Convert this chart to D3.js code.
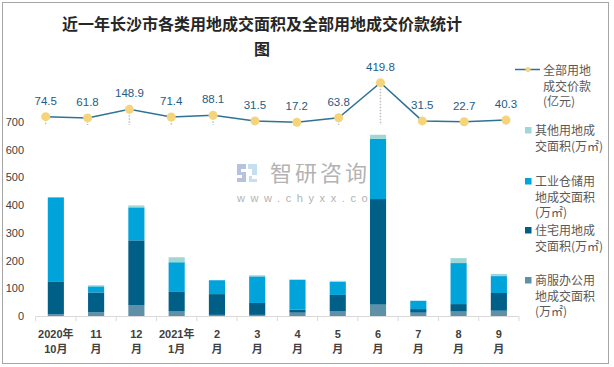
<!DOCTYPE html>
<html><head><meta charset="utf-8">
<script src="https://cdn.jsdelivr.net/npm/d3@7"></script>
<style>
html,body{margin:0;padding:0;background:#fff;}
svg{display:block;font-family:"Liberation Sans",Arial,"Noto Sans CJK SC",sans-serif;}
</style></head>
<body>
<svg id="c" width="614" height="367"></svg>
<script>
// ---- data ----
const months = ["2020年\n10月","11\n月","12\n月","2021年\n1月","2\n月","3\n月","4\n月","5\n月","6\n月","7\n月","8\n月","9\n月"];
const commercial = [6, 14, 38, 18, 4, 4, 12, 18, 41, 12, 16, 19];      // 商服办公用地成交面积
const residential = [119, 71, 235, 71, 75, 43, 11, 58, 381, 13, 27, 64]; // 住宅用地成交面积
const industrial = [303, 22, 119, 105, 50, 96, 108, 48, 217, 30, 148, 61]; // 工业仓储用地成交面积
const other = [0, 4, 7, 18, 0, 4, 0, 3, 15, 0, 18, 8];                  // 其他用地成交面积
const price = [74.5, 61.8, 148.9, 71.4, 88.1, 31.5, 17.2, 63.8, 419.8, 31.5, 22.7, 40.3]; // 全部用地成交价款(亿元)
const yTicks = [0, 100, 200, 300, 400, 500, 600, 700];

const seriesNames = ["商服办公用地成交面积(万㎡)","住宅用地成交面积(万㎡)","工业仓储用地成交面积(万㎡)","其他用地成交面积(万㎡)"];
const colors = ["#5E90A8", "#005F86", "#00A3DA", "#A0D7D6"];

const svg = d3.select("#c");

// outer frame
svg.append("rect").attr("x",2.5).attr("y",2.5).attr("width",606).attr("height",361)
  .attr("fill","#fff").attr("stroke","#a6a6a6").attr("stroke-width",1);

// title
const title = svg.append("text").attr("text-anchor","middle")
  .attr("font-family","'Noto Sans CJK SC',sans-serif").attr("font-weight","bold")
  .attr("font-size",16).attr("fill","#262626");
title.append("tspan").attr("x",262).attr("y",30).text("近一年长沙市各类用地成交面积及全部用地成交价款统计");
title.append("tspan").attr("x",262).attr("y",55).text("图");

// scales
const x = d3.scaleBand().domain(months).range([35.7, 519]).paddingInner(0.6).paddingOuter(0.3);
const y = d3.scaleLinear().domain([0, 700]).range([316, 122]);
const xl = d3.scalePoint().domain(months).range([45.7, 506]);
const y2 = d3.scaleLinear().domain([0, 500]).range([124, 74.8]);

// watermark
const wm = svg.append("g");
wm.append("path").attr("d","M237,164h9v5h-5v3h5v10h-9v-4h5v-3h-5z").attr("fill","#b7c2dc");
wm.append("path").attr("d","M248,164h9v11h-5v-6h-4z").attr("fill","#c5def0");
wm.append("path").attr("d","M249,176h3v3h5v3h-8z").attr("fill","#c5def0");
wm.append("text").attr("x",270).attr("y",181).attr("font-family","'Noto Sans CJK SC',sans-serif")
  .attr("font-size",22).attr("fill","#b3b3b3").attr("letter-spacing",3).text("智研咨询");
wm.append("text").attr("x",237).attr("y",202).attr("font-size",11).attr("fill","#b3b3b3")
  .attr("letter-spacing",5.6).text("www.chyxx.com");

// stacked bars
const rows = months.map((m,i)=>({m, s0:commercial[i], s1:residential[i], s2:industrial[i], s3:other[i]}));
const stack = d3.stack().keys(["s0","s1","s2","s3"])(rows);
svg.append("g").selectAll("g").data(stack).join("g").attr("fill",(d,i)=>colors[i])
  .selectAll("rect").data(d=>d).join("rect")
  .attr("x",d=>x(d.data.m)).attr("width",x.bandwidth())
  .attr("y",d=>y(d[1])).attr("height",d=>Math.max(0,y(d[0])-y(d[1])));

// x axis
const xAxisG = svg.append("g");
xAxisG.append("line").attr("x1",35.7).attr("x2",519).attr("y1",316.5).attr("y2",316.5).attr("stroke","#d9d9d9");
const step = x.step();
d3.range(13).forEach(k=>{
  const xx = 35.7 + k*step;
  xAxisG.append("line").attr("x1",xx).attr("x2",xx).attr("y1",316.5).attr("y2",321).attr("stroke","#d9d9d9");
});
months.forEach(m=>{
  const lines = m.split("\n");
  const t = svg.append("text").attr("text-anchor","middle").attr("font-size",11)
    .attr("font-weight","bold").attr("fill","#404040");
  lines.forEach((ln,j)=>t.append("tspan").attr("x",x(m)+x.bandwidth()/2).attr("y",338+j*15).text(ln));
});

// y axis labels
svg.append("g").selectAll("text").data(yTicks).join("text")
  .attr("x",24).attr("y",d=>y(d)+4).attr("text-anchor","end").attr("font-size",11)
  .attr("fill","#404040").text(d=>d);

// drop lines
svg.append("g").selectAll("line").data(price).join("line")
  .attr("x1",(d,i)=>xl(months[i])).attr("x2",(d,i)=>xl(months[i]))
  .attr("y1",d=>y2(d)).attr("y2",y2(0)+1)
  .attr("stroke","#bfbfbf").attr("stroke-width",1.5).attr("stroke-dasharray","1.5,1.5");

// line
const line = d3.line().x((d,i)=>xl(months[i])).y(d=>y2(d));
svg.append("path").datum(price).attr("d",line).attr("fill","none")
  .attr("stroke","#2F7393").attr("stroke-width",1.5);
svg.append("g").selectAll("circle").data(price).join("circle")
  .attr("cx",(d,i)=>xl(months[i])).attr("cy",d=>y2(d)).attr("r",4.5).attr("fill","#F6D47C");
svg.append("g").selectAll("text").data(price).join("text")
  .attr("x",(d,i)=>xl(months[i])).attr("y",d=>y2(d)-12).attr("text-anchor","middle")
  .attr("font-size",11.5).attr("fill","#1D5C86").text(d=>d.toFixed(1));

// legend
const lg = svg.append("g").attr("font-family","'Noto Sans CJK SC',sans-serif").attr("font-size",12).attr("fill","#595959");
lg.append("line").attr("x1",515).attr("x2",540).attr("y1",69.5).attr("y2",69.5).attr("stroke","#2F7393").attr("stroke-width",1.5);
lg.append("circle").attr("cx",528).attr("cy",69.5).attr("r",2.5).attr("fill","#F6D47C");
const lgText = (lines, x0, y0) => {
  const t = lg.append("text");
  lines.forEach((ln,j)=>t.append("tspan").attr("x",x0).attr("y",y0+j*15.5).text(ln));
};
lgText(["全部用地","成交价款","(亿元)"], 543, 75);
const legendItems = [
  {c:colors[3], lines:["其他用地成","交面积(万㎡)"], y:135},
  {c:colors[2], lines:["工业仓储用","地成交面积","(万㎡)"], y:186},
  {c:colors[1], lines:["住宅用地成","交面积(万㎡)"], y:235},
  {c:colors[0], lines:["商服办公用","地成交面积","(万㎡)"], y:285}
];
legendItems.forEach(it=>{
  lg.append("rect").attr("x",525).attr("y",it.y-8).attr("width",6.5).attr("height",6.5).attr("fill",it.c);
  lgText(it.lines, 535, it.y);
});
</script>
</body></html>
